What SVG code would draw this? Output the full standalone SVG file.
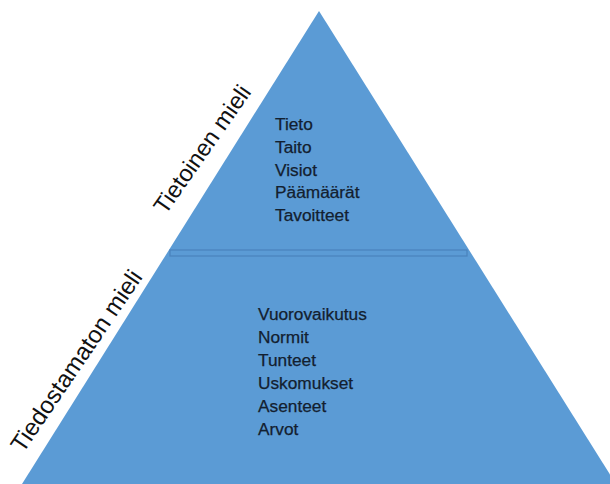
<svg xmlns="http://www.w3.org/2000/svg" width="610" height="484" viewBox="0 0 610 484">
<style>
.list{font-family:"Liberation Sans",Arial,sans-serif;font-size:17.3px;fill:#13202f;stroke:#13202f;stroke-width:0.25}
.lbl{font-family:"Liberation Sans",Arial,sans-serif;fill:#111111}
</style>
<rect width="610" height="484" fill="#ffffff"/>
<g id="pyramid">
<polygon points="319,11 22,484 616,484" fill="#5b9bd5"/>
</g>
<g id="band">
<rect x="170" y="250" width="297" height="6" fill="#5b9bd5" stroke="#4a82bd" stroke-width="1.2"/>
</g>
<g id="top-list">
<text class="list" x="275" y="130">Tieto</text>
<text class="list" x="275" y="152.8">Taito</text>
<text class="list" x="275" y="175.5">Visiot</text>
<text class="list" x="275" y="198.3">Päämäärät</text>
<text class="list" x="275" y="221">Tavoitteet</text>
</g>
<g id="bottom-list">
<text class="list" x="258" y="320">Vuorovaikutus</text>
<text class="list" x="258" y="343">Normit</text>
<text class="list" x="258" y="366">Tunteet</text>
<text class="list" x="258" y="389">Uskomukset</text>
<text class="list" x="258" y="412">Asenteet</text>
<text class="list" x="258" y="435">Arvot</text>
</g>
<g id="label-tietoinen">
<text class="lbl" font-size="23.5" transform="translate(165.5,215.5) rotate(-55)">Tietoinen mieli</text>
</g>
<g id="label-tiedostamaton">
<text class="lbl" font-size="24" transform="translate(23,453.9) rotate(-55.8)">Tiedostamaton mieli</text>
</g>
<g id="connectors"></g>
</svg>
